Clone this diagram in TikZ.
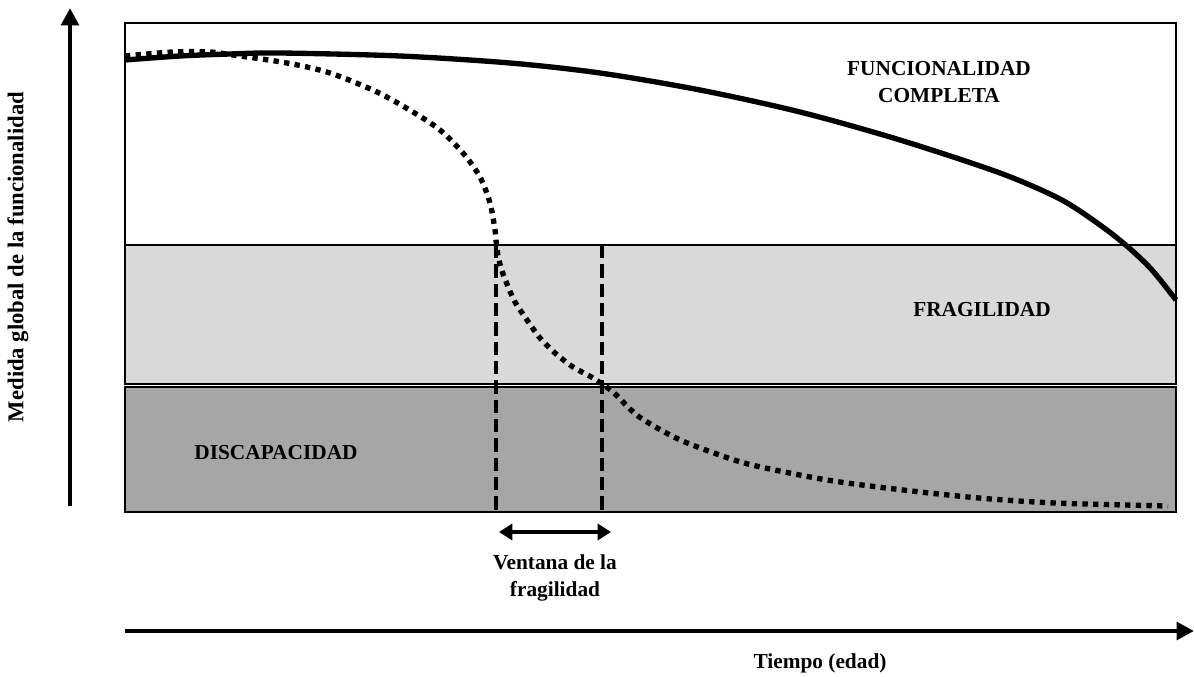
\documentclass[tikz,border=0pt]{standalone}
\usepackage{fontspec}
\setmainfont{Liberation Serif}
\usetikzlibrary{arrows.meta, positioning}
\definecolor{fragilGray}{HTML}{D9D9D9}
\definecolor{discapGray}{HTML}{A6A6A6}

\begin{document}
\begin{tikzpicture}[
    x=0.75pt, y=-0.75pt,
    band/.style={draw=black, line width=1.1pt},
    lbl/.style={font=\fontsize{16}{20}\selectfont\bfseries, align=center, inner sep=0pt},
    axis/.style={-{Triangle[length=13pt, width=13pt]}, line width=3.4pt},
    curva/.style={line width=4pt, line join=round},
    punteada/.style={line width=4pt, dash pattern=on 4pt off 4pt},
    ventana/.style={line width=3.4pt, dash pattern=on 10pt off 4.5pt},
    flecha/.style={{Triangle[length=10pt, width=12pt]}-{Triangle[length=10pt, width=12pt]}, line width=2.8pt},
  ]
    \useasboundingbox (0,0) rectangle (1194,677);

    % bandas
    \draw[band, fill=white] (125,23) rectangle (1176,245);
    \draw[band, fill=fragilGray] (125,245) rectangle (1176,384);
    \draw[band, fill=discapGray] (125,387) rectangle (1176,512);

    % curvas
    \draw[curva] plot[smooth] coordinates {(125,60) (180,56) (230,54) (280,53) (400,56) (510,63) (600,73) (700,90) (800,112) (900,140) (1000,173) (1060,199) (1100,225) (1128,247) (1152,270) (1176,300)};
    \draw[punteada] plot[smooth] coordinates {(125,56) (173,52) (210,52) (233,55) (287,63) (330,73) (377,92) (413,112) (440,130) (463,153) (480,177) (490,203) (495,230) (497,250) (501,268) (507,284) (515,302) (527,320) (540,338) (555,353) (573,367) (593,378) (613,392) (638,416) (676,438) (714,453) (752,465) (827,480) (903,490) (979,498) (1055,503) (1168,506)};

    % ventana de la fragilidad
    \coordinate (v1top) at (496,245);
    \coordinate (v1bot) at (496,514);
    \coordinate (v2top) at (602,245);
    \coordinate (v2bot) at (602,514);
    \coordinate (va) at (499,532);
    \coordinate (vb) at (611,532);
    \draw[ventana] (v1top) -- (v1bot);
    \draw[ventana] (v2top) -- (v2bot);
    \draw[flecha] (va) -- (vb);

    % ejes
    \coordinate (yo) at (70,506);
    \coordinate (yt) at (70,8);
    \coordinate (xo) at (125,631);
    \coordinate (xt) at (1194,631);
    \draw[axis] (yo) -- (yt);
    \draw[axis] (xo) -- (xt);

    \node[lbl] (funcional) at (939,82) {FUNCIONALIDAD\\COMPLETA};
    \node[lbl] (fragil) at (982,310) {FRAGILIDAD};
    \node[lbl] (discap) at (276,453) {DISCAPACIDAD};
    \node[lbl] (ventanaTxt) at (555,578) {Ventana de la\\fragilidad};
    \node[lbl] (tiempo) at (820,663) {Tiempo (edad)};
    \node[lbl, rotate=90, font=\fontsize{17}{20}\selectfont\bfseries] (medida) at (18,257) {Medida global de la funcionalidad};
  \end{tikzpicture}
\end{document}
